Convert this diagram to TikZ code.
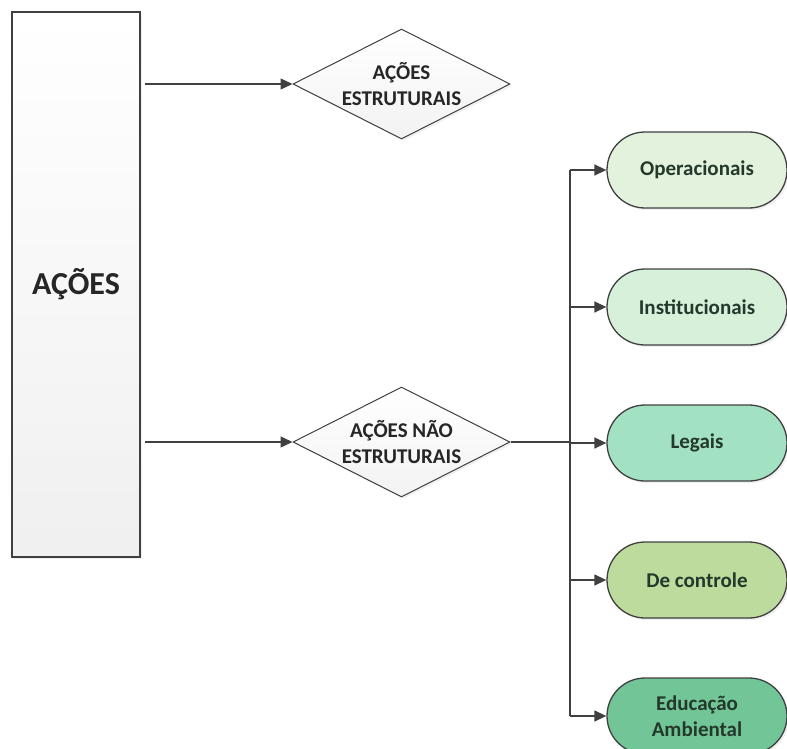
\documentclass[tikz,border=0pt]{standalone}
\usepackage{fontspec}
\setmainfont{Carlito}
\usetikzlibrary{arrows.meta,shapes.geometric,shadows}

\definecolor{linegray}{HTML}{404040}
\definecolor{txtgreen}{HTML}{24392C}
\definecolor{opfill}{HTML}{E3F2DC}
\definecolor{instfill}{HTML}{D6F0DA}
\definecolor{legfill}{HTML}{A2E2C2}
\definecolor{ctrlfill}{HTML}{BCDB9C}
\definecolor{edufill}{HTML}{71C597}

\begin{document}
\begin{tikzpicture}[x=1pt,y=-1pt,>={Triangle[length=12pt,width=11pt]},
                    line width=1.4pt,font=\bfseries]
  \tikzstyle{every node}=[draw=linegray,line width=1.3pt,text=black!85]
  \tikzstyle{bigbox}=[rectangle,top color=white,bottom color=black!6,
                      minimum width=128pt,minimum height=545pt,line width=1.8pt,
                      drop shadow={opacity=0.12,shadow xshift=2pt,shadow yshift=-2pt}]
  \tikzstyle{choice}=[diamond,aspect=2,inner sep=0pt,align=center,line width=1pt,
                      top color=white,bottom color=black!5,font=\bfseries\fontsize{21}{26}\selectfont,
                      minimum width=217pt,minimum height=110pt,
                      drop shadow={opacity=0.12,shadow xshift=2pt,shadow yshift=-2pt}]
  \tikzstyle{pill}=[rectangle,rounded corners=38pt,align=center,text=txtgreen,
                    minimum width=180pt,minimum height=76pt,inner sep=0pt,
                    font=\bfseries\fontsize{21}{26}\selectfont,
                    drop shadow={opacity=0.12,shadow xshift=2pt,shadow yshift=-2pt}]
  \useasboundingbox (0,0) rectangle (787,749);

  \node[bigbox] (acoes) at (76,284.5) {\fontsize{32}{38}\selectfont AÇÕES};
  \node[choice] (estr) at (401.5,84) {AÇÕES\\ESTRUTURAIS};
  \node[choice] (naoestr) at (401.5,442) {AÇÕES NÃO\\ESTRUTURAIS};

  \node[pill,fill=opfill]   (oper) at (697,170) {Operacionais};
  \node[pill,fill=instfill] (inst) at (697,307) {Institucionais};
  \node[pill,fill=legfill]  (leg)  at (697,443) {Legais};
  \node[pill,fill=ctrlfill] (ctrl) at (697,580) {De controle};
  \node[pill,fill=edufill]  (edu)  at (697,716) {Educação\\Ambiental};

  \coordinate (bus) at (570,442);

  \draw[->,linegray] (acoes.east |- estr.west) ++(4,0) -- (estr.west);
  \draw[->,linegray] (acoes.east |- naoestr.west) ++(4,0) -- (naoestr.west);
  \draw[linegray] (naoestr.east) -- (bus);
  \draw[linegray] (bus |- oper.west) -- (bus |- edu.west);
  \foreach \n in {oper,inst,leg,ctrl,edu}
    \draw[->,linegray] (bus |- \n.west) -- (\n.west);
\end{tikzpicture}
\end{document}
